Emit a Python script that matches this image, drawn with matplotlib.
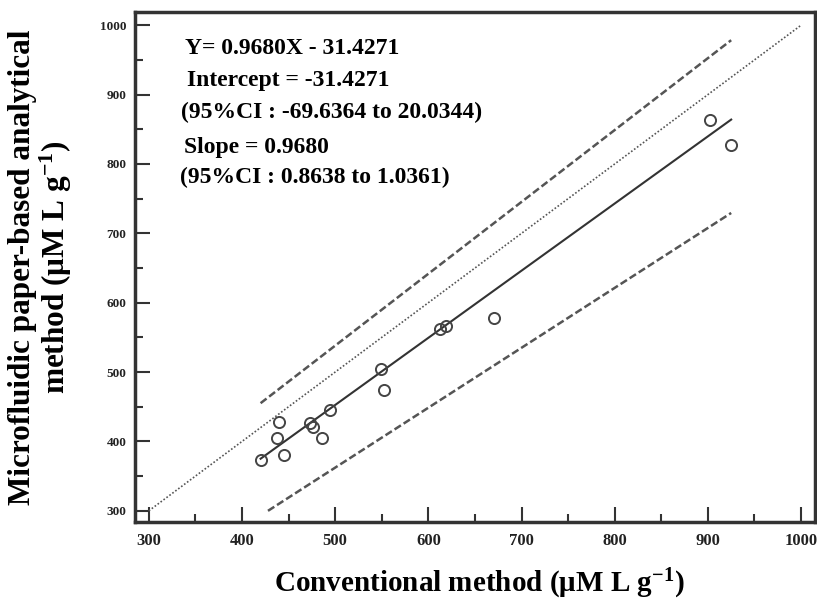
import numpy as np
import matplotlib
matplotlib.use("Agg")
import matplotlib.pyplot as plt
from matplotlib.ticker import MultipleLocator

# -------------------------
# Data
# -------------------------

conventional = [420, 438, 440, 445, 473, 476, 486, 494, 549, 552, 612, 619, 670, 902, 925]
microfluidic = [373, 405, 428, 381, 427, 421, 405, 446, 505, 474, 562, 567, 578, 863, 828]

slope = 0.9680
intercept = -31.4271
slope_ci = [0.8638, 1.0361]
intercept_ci = [-69.6364, 20.0344]

fit_text = [
    "Y= 0.9680X - 31.4271",
    "Intercept = -31.4271",
    "(95%CI : -69.6364 to 20.0344)",
    "Slope = 0.9680",
    "(95%CI : 0.8638 to 1.0361)",
]

# -------------------------
# Style
# -------------------------

plt.rcParams['font.family'] = ['Liberation Serif', 'DejaVu Serif']
plt.rcParams['font.weight'] = 'bold'
plt.rcParams['axes.labelweight'] = 'bold'
plt.rcParams['mathtext.fontset'] = 'custom'
plt.rcParams['mathtext.rm'] = 'Liberation Serif:bold'
plt.rcParams['mathtext.bf'] = 'Liberation Serif:bold'
plt.rcParams['mathtext.default'] = 'bf'

fig = plt.figure(figsize=(8.17, 6.02), dpi=100)
ax = fig.add_axes([0.165, 0.133, 0.8326, 0.847])

x_min, x_max = min(conventional), max(conventional)
xf = np.array([x_min, x_max])

# identity line
ax.plot([300, 1000], [300, 1000], linestyle=(0, (1, 1.2)), color='#555555', lw=1.2)

# upper / lower CI lines
ax.plot(xf, slope_ci[1] * xf + intercept_ci[1],
        linestyle=(0, (3, 1.3)), color='#555555', lw=1.8)
x_lo_start = (300 - intercept_ci[0]) / slope_ci[0]
xl = np.array([x_lo_start, x_max])
ax.plot(xl, slope_ci[0] * xl + intercept_ci[0],
        linestyle=(0, (3, 1.3)), color='#555555', lw=1.8)

# regression line
ax.plot(xf, slope * xf + intercept, color='#333333', lw=1.5)

# data points
ax.plot(conventional, microfluidic, 'o', markersize=8, markerfacecolor='none',
        markeredgecolor='#444444', markeredgewidth=1.4)

# -------------------------
# Axes
# -------------------------

ax.set_xlim(285, 1015)
ax.set_ylim(284, 1019)

ax.xaxis.set_major_locator(MultipleLocator(100))
ax.xaxis.set_minor_locator(MultipleLocator(50))
ax.yaxis.set_major_locator(MultipleLocator(100))
ax.yaxis.set_minor_locator(MultipleLocator(50))

ax.tick_params(which='major', direction='in', length=11, width=1.5, color='#333333')
ax.tick_params(which='minor', direction='in', length=6, width=1.5, color='#333333')
ax.tick_params(axis='x', labelsize=12, pad=8, labelcolor='#222222')
ax.tick_params(axis='y', labelsize=9.5, pad=6, labelcolor='#222222')

for s in ax.spines.values():
    s.set_linewidth(2.5)
    s.set_color('#333333')

ax.set_xlabel(r"Conventional method ($\mathbf{\mu}$M L g$^{-1}$)", fontsize=21)
ax.xaxis.set_label_coords(0.507, -0.088)
ax.set_ylabel("Microfluidic paper-based analytical\n" + r"method ($\mathbf{\mu}$M L g$^{-1}$)",
              fontsize=22.5, linespacing=1.0)
ax.yaxis.set_label_coords(-0.09, 0.5)

# -------------------------
# Equation text
# -------------------------

text_x = [339, 341, 335, 338, 333]
text_y = [967, 920, 874, 824, 780]
for t, tx, ty in zip(fit_text, text_x, text_y):
    ax.text(tx, ty, t, fontsize=17, va='center', ha='left', color='#000000')

plt.savefig("out.png", dpi=100)
